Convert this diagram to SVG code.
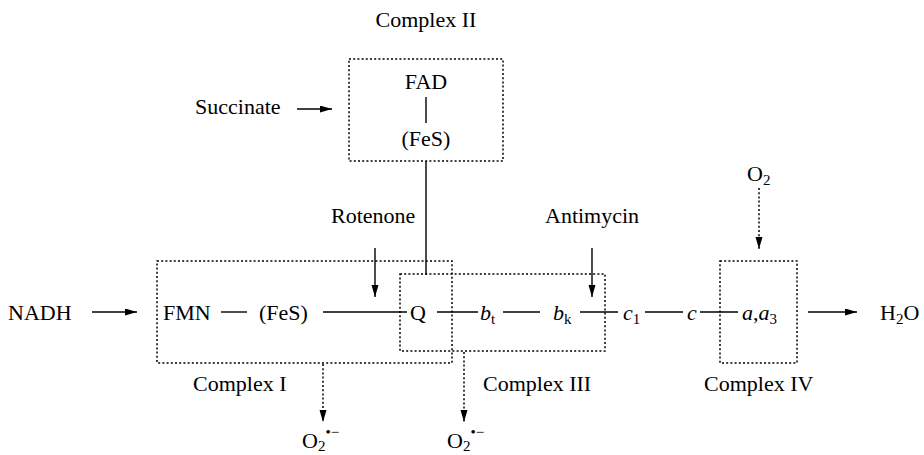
<svg xmlns="http://www.w3.org/2000/svg" width="924" height="455" viewBox="0 0 924 455">
<style>
text{font-family:"Liberation Serif","Times New Roman",serif;font-size:22px;fill:#000}
.m{text-anchor:middle}
.i{font-style:italic}
.s{font-size:15px;font-style:normal}
.box{fill:none;stroke:#000;stroke-width:1.5;stroke-dasharray:2 2.2}
.ln{fill:none;stroke:#000;stroke-width:1.4}
.dl{fill:none;stroke:#000;stroke-width:1.5;stroke-dasharray:2 2.2}
</style>
<defs>
<marker id="ah" markerUnits="userSpaceOnUse" markerWidth="12" markerHeight="8" refX="12" refY="3.5" orient="auto">
<path d="M0,0 L12,3.5 L0,7 z" fill="#000"/>
</marker>
</defs>
<rect width="924" height="455" fill="#fff"/>

<g id="complex2">
<rect class="box" x="349" y="59" width="154" height="102"/>
<text class="m" x="426" y="27">Complex II</text>
<text class="m" x="426" y="89">FAD</text>
<text class="m" x="426" y="146">(FeS)</text>
</g>
<g id="complex1">
<rect class="box" x="157" y="261" width="295" height="102"/>
<text x="193" y="391">Complex I</text>
<text x="163" y="320">FMN</text>
<text x="259" y="320">(FeS)</text>
</g>
<g id="complex3">
<rect class="box" x="400" y="274" width="205" height="77"/>
<text x="483" y="391">Complex III</text>
<text x="410" y="320">Q</text>
<text x="480" y="320"><tspan class="i">b</tspan><tspan class="s" dy="4">t</tspan></text>
<text x="553" y="320"><tspan class="i">b</tspan><tspan class="s" dy="4">k</tspan></text>
</g>
<g id="cytc1"><text x="623" y="320"><tspan class="i">c</tspan><tspan class="s" dy="4">1</tspan></text></g>
<g id="cytc"><text class="i" x="687" y="320">c</text></g>
<g id="complex4">
<rect class="box" x="720" y="261" width="77" height="102"/>
<text x="704" y="391">Complex IV</text>
<text x="742" y="320"><tspan class="i">a</tspan>,<tspan class="i">a</tspan><tspan class="s" dy="4">3</tspan></text>
</g>
<g id="nadh"><text x="8" y="320">NADH</text></g>
<g id="h2o"><text x="880" y="320">H<tspan class="s" dy="4">2</tspan><tspan dy="-4">O</tspan></text></g>
<g id="succinate"><text x="195" y="114">Succinate</text></g>
<g id="rotenone"><text x="331" y="223">Rotenone</text></g>
<g id="antimycin"><text x="545" y="223">Antimycin</text></g>
<g id="o2"><text x="747" y="181">O<tspan class="s" dy="4">2</tspan></text></g>
<g id="superoxide1"><text x="302" y="448">O<tspan class="s" dy="3">2</tspan><tspan class="s" dy="-14">•−</tspan></text></g>
<g id="superoxide3"><text x="447" y="448">O<tspan class="s" dy="3">2</tspan><tspan class="s" dy="-14">•−</tspan></text></g>

<g id="connectors">
<line class="ln" x1="92" y1="312" x2="137" y2="312" marker-end="url(#ah)"/>
<line class="ln" x1="221" y1="312" x2="247" y2="312"/>
<line class="ln" x1="323" y1="312" x2="407" y2="312"/>
<line class="ln" x1="437" y1="312" x2="478" y2="312"/>
<line class="ln" x1="503" y1="312" x2="540" y2="312"/>
<line class="ln" x1="580" y1="312" x2="618" y2="312"/>
<line class="ln" x1="645" y1="312" x2="683" y2="312"/>
<line class="ln" x1="700" y1="312" x2="738" y2="312"/>
<line class="ln" x1="808" y1="312" x2="857" y2="312" marker-end="url(#ah)"/>
<line class="ln" x1="426" y1="97" x2="426" y2="123"/>
<line class="ln" x1="426" y1="161" x2="426" y2="275"/>
<line class="ln" x1="297" y1="109" x2="332" y2="109" marker-end="url(#ah)"/>
<line class="ln" x1="375" y1="248" x2="375" y2="297" marker-end="url(#ah)"/>
<line class="ln" x1="592" y1="248" x2="592" y2="297" marker-end="url(#ah)"/>
<line class="dl" x1="759" y1="188" x2="759" y2="249" marker-end="url(#ah)"/>
<line class="dl" x1="323" y1="364" x2="323" y2="422" marker-end="url(#ah)"/>
<line class="dl" x1="464" y1="352" x2="464" y2="422" marker-end="url(#ah)"/>
</g>
</svg>
